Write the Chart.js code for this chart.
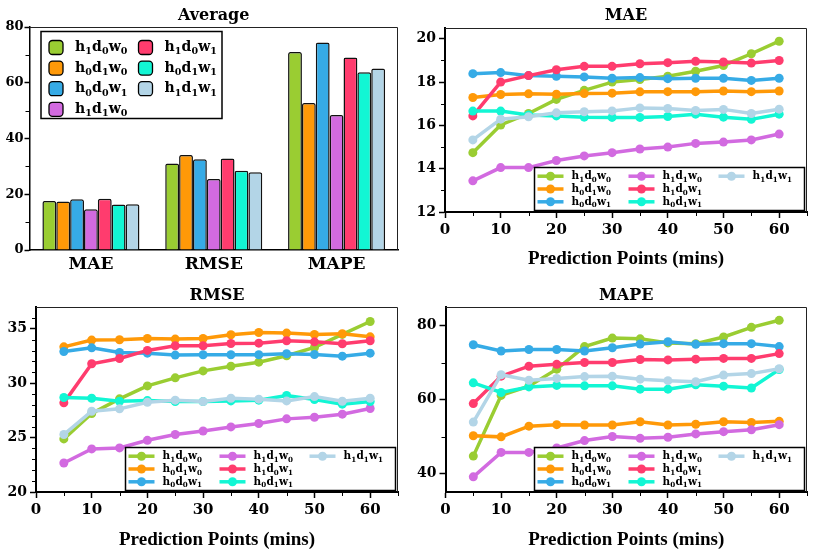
<!DOCTYPE html>
<html lang="en">
<head>
    <meta charset="UTF-8">
    <title>Ablation Results</title>
    <script src="https://cdn.jsdelivr.net/npm/chart.js"></script>
    <style>
        body {
            margin: 0;
            background-color: #ffffff;
        }
        #wrap {
            position: relative;
            width: 830px;
            height: 555px;
        }
        .panel {
            position: absolute;
        }
    </style>
</head>
<body>
    <div id="wrap">
        <div class="panel" style="left:0;top:0;width:415px;height:277px"><canvas id="avgChart"></canvas></div>
        <div class="panel" style="left:415px;top:0;width:415px;height:277px"><canvas id="maeChart"></canvas></div>
        <div class="panel" style="left:0;top:277px;width:415px;height:278px"><canvas id="rmseChart"></canvas></div>
        <div class="panel" style="left:415px;top:277px;width:415px;height:278px"><canvas id="mapeChart"></canvas></div>
    </div>

    <script>
        // model variants and their colours
        const variants = ['h1d0w0', 'h0d1w0', 'h0d0w1', 'h1d1w0', 'h1d0w1', 'h0d1w1', 'h1d1w1'];
        const colors = ['#9acd32', '#ff9908', '#36abe6', '#d26ae0', '#ff3c6e', '#12f6d4', '#b3d5e7'];

        // averages (one value per variant)
        const metrics = ['MAE', 'RMSE', 'MAPE'];
        const avgMAE = [17.6, 17.4, 18.2, 14.6, 18.4, 16.3, 16.4];
        const avgRMSE = [31.0, 34.1, 32.6, 25.5, 32.8, 28.4, 27.9];
        const avgMAPE = [71.0, 52.7, 74.4, 48.4, 69.1, 63.8, 65.1];

        // prediction points in minutes
        const steps = [5, 10, 15, 20, 25, 30, 35, 40, 45, 50, 55, 60];

        // one row per variant, same order as `variants`
        const maeSeries = [
            [14.74, 16.02, 16.55, 17.20, 17.62, 18.00, 18.12, 18.27, 18.50, 18.77, 19.31, 19.89],
            [17.29, 17.43, 17.46, 17.44, 17.47, 17.49, 17.55, 17.56, 17.56, 17.59, 17.56, 17.59],
            [18.39, 18.44, 18.30, 18.27, 18.24, 18.18, 18.21, 18.16, 18.18, 18.18, 18.08, 18.18],
            [13.44, 14.05, 14.05, 14.38, 14.59, 14.74, 14.91, 15.00, 15.17, 15.23, 15.33, 15.60],
            [16.44, 18.00, 18.30, 18.57, 18.73, 18.73, 18.85, 18.90, 18.96, 18.93, 18.88, 19.00],
            [16.66, 16.66, 16.48, 16.44, 16.38, 16.37, 16.37, 16.41, 16.52, 16.38, 16.28, 16.52],
            [15.33, 16.29, 16.40, 16.58, 16.63, 16.67, 16.81, 16.78, 16.69, 16.74, 16.55, 16.75]
        ];
        const rmseSeries = [
            [24.88, 27.21, 28.56, 29.75, 30.49, 31.13, 31.56, 31.93, 32.52, 33.28, 34.48, 35.67],
            [33.34, 33.96, 33.99, 34.11, 34.05, 34.11, 34.45, 34.66, 34.60, 34.48, 34.54, 34.26],
            [32.91, 33.25, 32.82, 32.76, 32.58, 32.61, 32.61, 32.61, 32.70, 32.64, 32.48, 32.76],
            [22.67, 23.96, 24.05, 24.75, 25.28, 25.61, 25.98, 26.29, 26.72, 26.87, 27.15, 27.67],
            [28.19, 31.78, 32.27, 33.01, 33.44, 33.44, 33.65, 33.68, 33.90, 33.80, 33.62, 33.90],
            [28.68, 28.62, 28.34, 28.40, 28.31, 28.31, 28.37, 28.44, 28.87, 28.50, 28.07, 28.31],
            [25.28, 27.42, 27.64, 28.25, 28.44, 28.31, 28.62, 28.53, 28.37, 28.77, 28.34, 28.62]
        ];
        const mapeSeries = [
            [44.7, 61.1, 63.6, 68.2, 74.3, 76.6, 76.4, 75.3, 75.1, 76.9, 79.5, 81.4],
            [50.2, 49.9, 52.8, 53.2, 53.1, 53.1, 54.0, 53.1, 53.3, 54.0, 53.8, 54.1],
            [74.8, 73.1, 73.5, 73.5, 73.1, 74.0, 75.0, 75.6, 74.9, 75.1, 75.1, 74.3],
            [39.1, 45.7, 45.7, 46.9, 48.9, 50.0, 49.5, 49.8, 50.7, 51.3, 51.8, 53.2],
            [58.9, 66.3, 69.0, 69.5, 70.0, 70.0, 70.8, 70.7, 70.9, 71.1, 71.1, 72.4],
            [64.5, 61.9, 63.4, 63.8, 63.7, 63.7, 62.8, 62.8, 64.0, 63.6, 63.1, 68.1],
            [53.9, 66.7, 65.2, 65.7, 66.2, 66.3, 65.5, 65.1, 64.8, 66.6, 67.0, 68.3]
        ];

        // tick values (major = labelled, minor = short unlabelled marks)
        const xMajor = [0, 10, 20, 30, 40, 50, 60];
        const xMinor = [5, 15, 25, 35, 45, 55, 65];
        const avgYMajor = [0, 20, 40, 60, 80];
        const avgYMinor = [10, 30, 50, 70];
        const maeYMajor = [12, 14, 16, 18, 20];
        const maeYMinor = [13, 15, 17, 19];
        const rmseYMajor = [20, 25, 30, 35];
        const rmseYMinor = [21, 22, 23, 24, 26, 27, 28, 29, 31, 32, 33, 34, 36];
        const mapeYMajor = [40, 60, 80];
        const mapeYMinor = [50, 70];

        const SERIF = '"DejaVu Serif", serif';
        const TIMES = '"Liberation Serif", serif';

        // draws e.g. h1d0w0 as h₁d₀w₀ with real subscripts
        function drawSubLabel(ctx, name, x, y, size) {
            let cx = x;
            ctx.textAlign = 'left';
            ctx.textBaseline = 'alphabetic';
            ctx.fillStyle = '#000';
            for (const m of name.matchAll(/([a-z])(\d)/g)) {
                ctx.font = `bold ${size}px ${SERIF}`;
                ctx.fillText(m[1], cx, y);
                cx += ctx.measureText(m[1]).width;
                ctx.font = `bold ${size * 0.68}px ${SERIF}`;
                ctx.fillText(m[2], cx, y + size * 0.24);
                cx += ctx.measureText(m[2]).width + 0.3;
            }
        }

        function drawTitle(chart, text, y) {
            const ctx = chart.ctx;
            const a = chart.chartArea;
            ctx.save();
            ctx.font = `bold 16px ${SERIF}`;
            ctx.fillStyle = '#000';
            ctx.textAlign = 'center';
            ctx.textBaseline = 'alphabetic';
            ctx.fillText(text, (a.left + a.right) / 2, y);
            ctx.restore();
        }

        // short minor tick marks outside the axes
        function drawMinorTicks(chart, xs, ys) {
            const ctx = chart.ctx;
            const a = chart.chartArea;
            ctx.save();
            ctx.strokeStyle = '#000';
            ctx.lineWidth = 1;
            ctx.beginPath();
            if (xs) {
                xs.forEach(v => {
                    const px = Math.round(chart.scales.x.getPixelForValue(v)) + 0.5;
                    ctx.moveTo(px, a.bottom);
                    ctx.lineTo(px, a.bottom + 4);
                });
            }
            ys.forEach(v => {
                const py = Math.round(chart.scales.y.getPixelForValue(v)) + 0.5;
                ctx.moveTo(a.left, py);
                ctx.lineTo(a.left - 4, py);
            });
            ctx.stroke();
            ctx.restore();
        }

        function framePlugin(cfg, legendFn) {
            return {
                id: 'frame',
                afterDatasetsDraw(chart) {
                    const ctx = chart.ctx;
                    const a = chart.chartArea;
                    ctx.save();
                    ctx.strokeStyle = '#222';
                    ctx.lineWidth = 1;
                    ctx.beginPath();
                    ctx.moveTo(a.left, a.top + 0.5);
                    ctx.lineTo(a.right - 0.5, a.top + 0.5);
                    ctx.lineTo(a.right - 0.5, a.bottom);
                    ctx.stroke();
                    ctx.restore();
                    legendFn(chart);
                },
                afterDraw(chart) {
                    drawTitle(chart, cfg.title, cfg.titleY);
                    drawMinorTicks(chart, cfg.xMinor, cfg.yMinor);
                    if (cfg.xTitleY) {
                        const ctx = chart.ctx;
                        const a = chart.chartArea;
                        ctx.save();
                        ctx.font = `bold 19px ${TIMES}`;
                        ctx.fillStyle = '#000';
                        ctx.textAlign = 'center';
                        ctx.fillText('Prediction Points (mins)', (a.left + a.right) / 2, cfg.xTitleY);
                        ctx.restore();
                    }
                }
            };
        }

        // legend inside the bar chart, 2 columns
        function barLegend(chart) {
            const ctx = chart.ctx;
            const a = chart.chartArea;
            const L = a.left + 11.5, T = a.top + 4.5;
            ctx.save();
            ctx.fillStyle = '#fff';
            ctx.fillRect(L, T, 181, 87);
            ctx.strokeStyle = '#000';
            ctx.lineWidth = 1.5;
            ctx.strokeRect(L, T, 181, 87);
            variants.forEach((v, i) => {
                const col = i < 4 ? 0 : 1;
                const row = i < 4 ? i : i - 4;
                const bx = L + 8 + col * 89.5;
                const cy = T + 16 + row * 20.6;
                ctx.beginPath();
                ctx.roundRect(bx, cy - 7, 14, 14, 3.5);
                ctx.fillStyle = colors[i];
                ctx.fill();
                ctx.lineWidth = 1.3;
                ctx.strokeStyle = '#000';
                ctx.stroke();
                drawSubLabel(ctx, v, bx + 26, cy + 3.5, 14);
            });
            ctx.restore();
        }

        // legend in the lower right of the line charts, 3 columns
        function lineLegend(chart) {
            const ctx = chart.ctx;
            const a = chart.chartArea;
            const W = 270, H = 43;
            const L = a.right - 2.5 - W, T = a.bottom - 1.5 - H;
            ctx.save();
            ctx.fillStyle = '#fff';
            ctx.fillRect(L, T, W, H);
            ctx.strokeStyle = '#000';
            ctx.lineWidth = 1.5;
            ctx.strokeRect(L, T, W, H);
            const colX = [0, 91, 181];
            variants.forEach((v, i) => {
                const col = Math.floor(i / 3);
                const row = i % 3;
                const x = L + colX[col];
                const cy = T + 8.7 + row * 12.8;
                ctx.strokeStyle = colors[i];
                ctx.lineWidth = 3.5;
                ctx.beginPath();
                ctx.moveTo(x + 3, cy);
                ctx.lineTo(x + 29, cy);
                ctx.stroke();
                ctx.fillStyle = colors[i];
                ctx.beginPath();
                ctx.arc(x + 16, cy, 4.5, 0, Math.PI * 2);
                ctx.fill();
                drawSubLabel(ctx, v, x + 37, cy + 3, 10.5);
            });
            ctx.restore();
        }

        function tickFont(size) {
            return { family: SERIF, size: size, weight: 'bold' };
        }

        function setTicks(values) {
            return scale => { scale.ticks = values.map(v => ({ value: v })); };
        }

        // Average bar chart
        new Chart(document.getElementById('avgChart'), {
            type: 'bar',
            data: {
                labels: metrics,
                datasets: variants.map((v, i) => ({
                    label: v,
                    data: [avgMAE[i], avgRMSE[i], avgMAPE[i]],
                    backgroundColor: colors[i],
                    borderColor: '#111',
                    borderWidth: 1.5,
                    borderRadius: 2,
                    borderSkipped: 'bottom',
                    barPercentage: 1.0,
                    categoryPercentage: 0.79
                }))
            },
            options: {
                responsive: true,
                maintainAspectRatio: false,
                animation: false,
                layout: { padding: { left: 0, right: 17, top: 27, bottom: 0 } },
                plugins: { legend: { display: false }, tooltip: { enabled: false } },
                scales: {
                    x: {
                        grid: { display: false, drawTicks: false },
                        border: { color: '#000', width: 1.5 },
                        ticks: { color: '#000', font: tickFont(17), padding: 4 },
                        afterFit: s => { s.height = 27; }
                    },
                    y: {
                        min: 0,
                        max: 80,
                        afterBuildTicks: setTicks(avgYMajor),
                        grid: { drawOnChartArea: false, tickLength: 5, tickColor: '#000', tickWidth: 1.5 },
                        border: { color: '#000', width: 1.5 },
                        ticks: { color: '#000', font: tickFont(13), padding: 1 },
                        afterFit: s => { s.width = 29.5; }
                    }
                }
            },
            plugins: [framePlugin({ title: 'Average', titleY: 19.5, xMinor: null, yMinor: avgYMinor }, barLegend)]
        });

        function lineChart(id, series, cfg) {
            new Chart(document.getElementById(id), {
                type: 'line',
                data: {
                    datasets: variants.map((v, i) => ({
                        label: v,
                        data: steps.map((s, k) => ({ x: s, y: series[i][k] })),
                        borderColor: colors[i],
                        backgroundColor: colors[i],
                        pointBackgroundColor: colors[i],
                        borderWidth: 3.5,
                        pointRadius: 4.5,
                        pointBorderWidth: 0,
                        tension: 0,
                        order: variants.length - i
                    }))
                },
                options: {
                    responsive: true,
                    maintainAspectRatio: false,
                    animation: false,
                    layout: { padding: { left: 0, right: cfg.right, top: cfg.top, bottom: 0 } },
                    plugins: { legend: { display: false }, tooltip: { enabled: false } },
                    scales: {
                        x: {
                            type: 'linear',
                            min: 0,
                            max: 65,
                            afterBuildTicks: setTicks(xMajor),
                            grid: { drawOnChartArea: false, tickLength: 6, tickColor: '#000', tickWidth: 1.5 },
                            border: { color: '#000', width: 2 },
                            ticks: { autoSkip: false, maxRotation: 0, color: '#000',
                                     font: tickFont(15), padding: 3 },
                            afterFit: s => { s.height = cfg.xh; }
                        },
                        y: {
                            min: cfg.yMin,
                            max: cfg.yMax,
                            afterBuildTicks: setTicks(cfg.yMajor),
                            grid: { drawOnChartArea: false, tickLength: 6, tickColor: '#000', tickWidth: 1.5 },
                            border: { color: '#000', width: 2 },
                            ticks: { autoSkip: false, color: '#000', font: tickFont(14), padding: 3 },
                            afterFit: s => { s.width = cfg.left; }
                        }
                    }
                },
                plugins: [framePlugin(cfg, lineLegend)]
            });
        }

        lineChart('maeChart', maeSeries, {
            title: 'MAE', yMin: 12, yMax: 20.5, yMajor: maeYMajor, yMinor: maeYMinor, xMinor: xMinor,
            left: 30, right: 23, top: 28, xh: 65, titleY: 19.5, xTitleY: 263.5
        });
        lineChart('rmseChart', rmseSeries, {
            title: 'RMSE', yMin: 20, yMax: 37, yMajor: rmseYMajor, yMinor: rmseYMinor, xMinor: xMinor,
            left: 36, right: 17, top: 30, xh: 63, titleY: 23, xTitleY: 267.5
        });
        lineChart('mapeChart', mapeSeries, {
            title: 'MAPE', yMin: 35, yMax: 85, yMajor: mapeYMajor, yMinor: mapeYMinor, xMinor: xMinor,
            left: 30.5, right: 23, top: 30, xh: 63, titleY: 23, xTitleY: 267.5
        });
    </script>
</body>
</html>
